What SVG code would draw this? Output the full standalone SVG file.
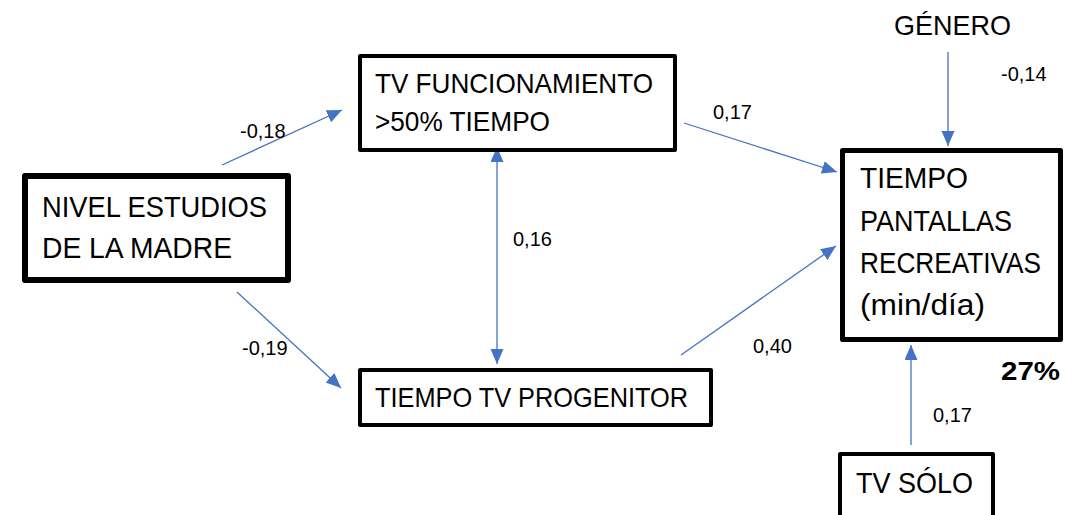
<svg xmlns="http://www.w3.org/2000/svg" width="1084" height="515" viewBox="0 0 1084 515">
<defs>
<style>
.box{fill:#fff;stroke:#000;stroke-linejoin:round}
.t{font-family:"Liberation Sans",Arial,sans-serif;fill:#000}
.big{font-size:30px}
.lbl{font-size:20px}
.conn{stroke:#4472C4;stroke-width:1.3;fill:none}
</style>
<marker id="ah" markerUnits="userSpaceOnUse" markerWidth="16" markerHeight="14" refX="15" refY="6.5" orient="auto-start-reverse">
<path d="M0,0 L15,6.5 L0,13 z" fill="#4472C4"/>
</marker>
</defs>
<rect width="1084" height="515" fill="#fff"/>
<g id="connectors">
<line class="conn" x1="222" y1="165" x2="342" y2="110" marker-end="url(#ah)"/>
<line class="conn" x1="237" y1="292" x2="341" y2="388" marker-end="url(#ah)"/>
<line class="conn" x1="684" y1="123" x2="837" y2="172" marker-end="url(#ah)"/>
<line class="conn" x1="681" y1="355" x2="836" y2="246" marker-end="url(#ah)"/>
<line class="conn" x1="948" y1="52" x2="948" y2="146" marker-end="url(#ah)"/>
<line class="conn" x1="911" y1="445" x2="911" y2="345" marker-end="url(#ah)"/>
<line class="conn" x1="497" y1="147" x2="497" y2="364" marker-start="url(#ah)" marker-end="url(#ah)"/>
<text class="t lbl" x="240" y="138">-0,18</text>
<text class="t lbl" x="242" y="355">-0,19</text>
<text class="t lbl" x="713" y="119">0,17</text>
<text class="t lbl" x="513" y="246">0,16</text>
<text class="t lbl" x="753" y="353">0,40</text>
<text class="t lbl" x="1001" y="81">-0,14</text>
<text class="t lbl" x="933" y="422">0,17</text>
</g>
<g id="nivel">
<rect class="box" x="25" y="176" width="263" height="104" stroke-width="6"/>
<text class="t big" x="42" y="217" textLength="225" lengthAdjust="spacingAndGlyphs">NIVEL ESTUDIOS</text>
<text class="t big" x="42" y="258" textLength="190" lengthAdjust="spacingAndGlyphs">DE LA MADRE</text>
</g>
<g id="tvfunc">
<rect class="box" x="360" y="56" width="315" height="94" stroke-width="4"/>
<text class="t" font-size="28" x="375" y="93" textLength="278" lengthAdjust="spacingAndGlyphs">TV FUNCIONAMIENTO</text>
<text class="t" font-size="28" x="375" y="131" textLength="175" lengthAdjust="spacingAndGlyphs">&gt;50% TIEMPO</text>
</g>
<g id="progenitor">
<rect class="box" x="360" y="370" width="351" height="55" stroke-width="4"/>
<text class="t" font-size="28" x="375" y="407" textLength="313" lengthAdjust="spacingAndGlyphs">TIEMPO TV PROGENITOR</text>
</g>
<g id="genero">
<text class="t" font-size="28" x="894" y="35" textLength="117" lengthAdjust="spacingAndGlyphs">GÉNERO</text>
</g>
<g id="pantallas">
<rect class="box" x="842.5" y="150.5" width="218" height="189" stroke-width="5"/>
<text class="t big" x="860" y="188" textLength="108" lengthAdjust="spacingAndGlyphs">TIEMPO</text>
<text class="t big" x="860" y="231" textLength="152" lengthAdjust="spacingAndGlyphs">PANTALLAS</text>
<text class="t big" x="860" y="273" textLength="181" lengthAdjust="spacingAndGlyphs">RECREATIVAS</text>
<text class="t big" x="860" y="315" textLength="125" lengthAdjust="spacingAndGlyphs">(min/día)</text>
<text class="t" font-size="26" font-weight="bold" x="1001" y="380" textLength="59" lengthAdjust="spacingAndGlyphs">27%</text>
</g>
<g id="tvsolo">
<rect class="box" x="840" y="454" width="153" height="80" stroke-width="4"/>
<text class="t big" x="856" y="493" textLength="117" lengthAdjust="spacingAndGlyphs">TV SÓLO</text>
</g>
</svg>
